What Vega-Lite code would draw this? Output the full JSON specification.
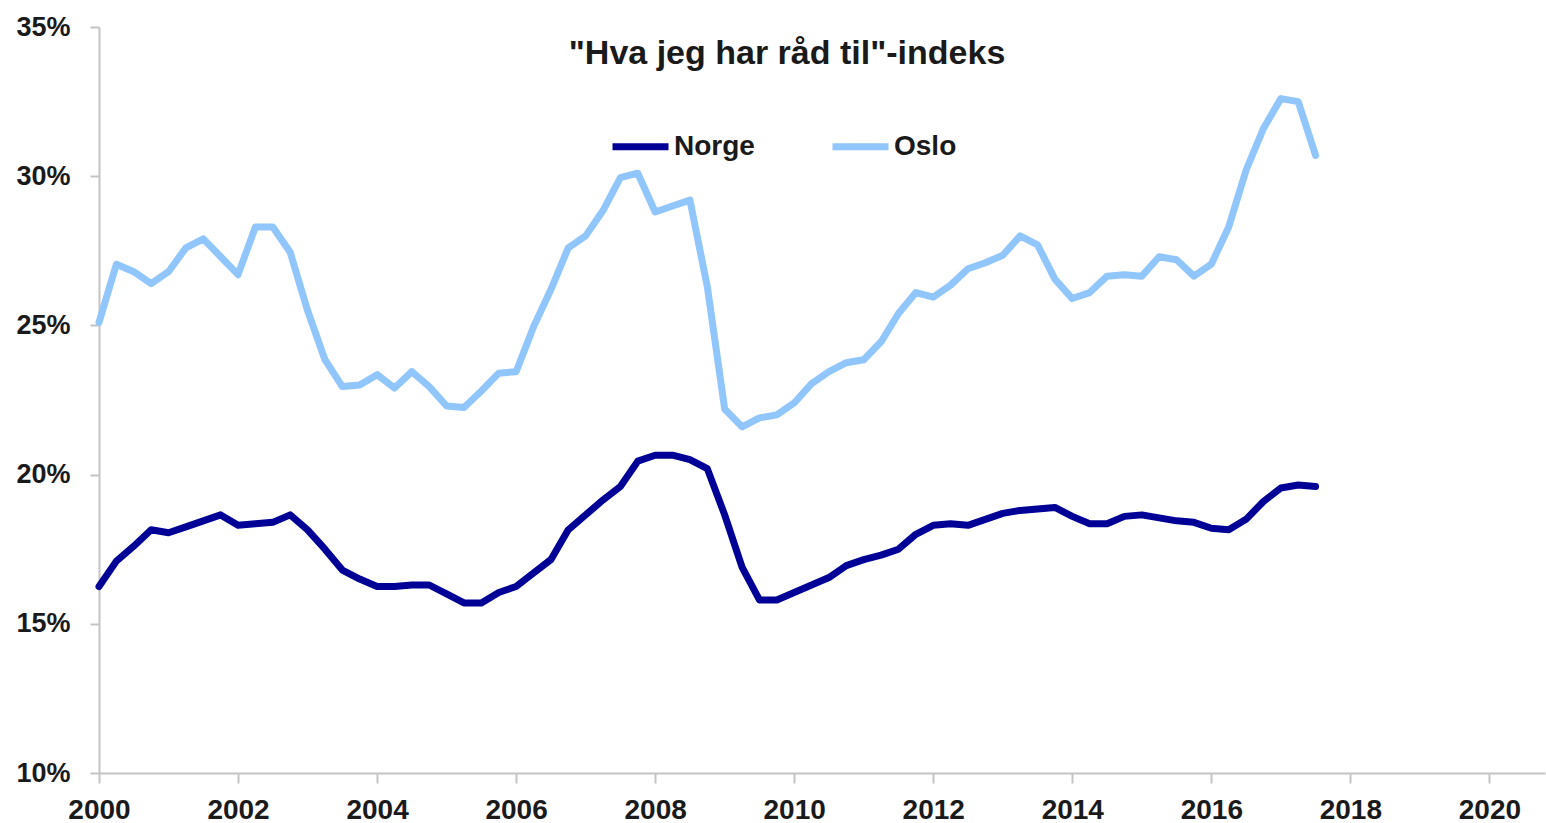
{
  "$schema": "https://vega.github.io/schema/vega-lite/v6.json",
  "width": 1446,
  "height": 746,
  "autosize": {"type": "none"},
  "padding": {"left": 99, "top": 27, "right": 1, "bottom": 50},
  "background": "white",
  "config": {
    "view": {"stroke": null},
    "font": "Liberation Sans",
    "axis": {"grid": false, "labelFont": "Liberation Sans", "labelFontWeight": "bold", "labelFontSize": 27, "labelColor": "#1a1a1a", "domainColor": "#c4c4c4", "domainWidth": 2, "tickColor": "#c4c4c4", "tickWidth": 2, "title": null}
  },
  "title": {
    "text": "\"Hva jeg har råd til\"-indeks",
    "font": "Liberation Sans",
    "fontSize": 34,
    "fontWeight": "bold",
    "color": "#1a1a1a",
    "anchor": "middle",
    "frame": "group",
    "dx": -35,
    "offset": -58
  },
  "data": {
    "values": [
      {"t": 2000.0, "Norge": 16.25, "Oslo": 25.1},
      {"t": 2000.25, "Norge": 17.1, "Oslo": 27.05},
      {"t": 2000.5, "Norge": 17.6, "Oslo": 26.8},
      {"t": 2000.75, "Norge": 18.15, "Oslo": 26.4},
      {"t": 2001.0, "Norge": 18.05, "Oslo": 26.8},
      {"t": 2001.25, "Norge": 18.25, "Oslo": 27.6},
      {"t": 2001.5, "Norge": 18.45, "Oslo": 27.9},
      {"t": 2001.75, "Norge": 18.65, "Oslo": 27.3},
      {"t": 2002.0, "Norge": 18.3, "Oslo": 26.7},
      {"t": 2002.25, "Norge": 18.35, "Oslo": 28.3},
      {"t": 2002.5, "Norge": 18.4, "Oslo": 28.3},
      {"t": 2002.75, "Norge": 18.65, "Oslo": 27.45},
      {"t": 2003.0, "Norge": 18.15, "Oslo": 25.5},
      {"t": 2003.25, "Norge": 17.5, "Oslo": 23.85},
      {"t": 2003.5, "Norge": 16.8, "Oslo": 22.95},
      {"t": 2003.75, "Norge": 16.5, "Oslo": 23.0},
      {"t": 2004.0, "Norge": 16.25, "Oslo": 23.35},
      {"t": 2004.25, "Norge": 16.25, "Oslo": 22.9},
      {"t": 2004.5, "Norge": 16.3, "Oslo": 23.45},
      {"t": 2004.75, "Norge": 16.3, "Oslo": 22.95},
      {"t": 2005.0, "Norge": 16.0, "Oslo": 22.3},
      {"t": 2005.25, "Norge": 15.7, "Oslo": 22.25},
      {"t": 2005.5, "Norge": 15.7, "Oslo": 22.8},
      {"t": 2005.75, "Norge": 16.05, "Oslo": 23.4},
      {"t": 2006.0, "Norge": 16.25, "Oslo": 23.45},
      {"t": 2006.25, "Norge": 16.7, "Oslo": 24.95},
      {"t": 2006.5, "Norge": 17.15, "Oslo": 26.2},
      {"t": 2006.75, "Norge": 18.15, "Oslo": 27.6},
      {"t": 2007.0, "Norge": 18.65, "Oslo": 28.0},
      {"t": 2007.25, "Norge": 19.15, "Oslo": 28.85},
      {"t": 2007.5, "Norge": 19.6, "Oslo": 29.95},
      {"t": 2007.75, "Norge": 20.45, "Oslo": 30.1},
      {"t": 2008.0, "Norge": 20.65, "Oslo": 28.8},
      {"t": 2008.25, "Norge": 20.65, "Oslo": 29.0},
      {"t": 2008.5, "Norge": 20.5, "Oslo": 29.2},
      {"t": 2008.75, "Norge": 20.2, "Oslo": 26.3},
      {"t": 2009.0, "Norge": 18.65, "Oslo": 22.2},
      {"t": 2009.25, "Norge": 16.9, "Oslo": 21.6},
      {"t": 2009.5, "Norge": 15.8, "Oslo": 21.9},
      {"t": 2009.75, "Norge": 15.8, "Oslo": 22.0},
      {"t": 2010.0, "Norge": 16.05, "Oslo": 22.4},
      {"t": 2010.25, "Norge": 16.3, "Oslo": 23.05},
      {"t": 2010.5, "Norge": 16.55, "Oslo": 23.45},
      {"t": 2010.75, "Norge": 16.95, "Oslo": 23.75},
      {"t": 2011.0, "Norge": 17.15, "Oslo": 23.85},
      {"t": 2011.25, "Norge": 17.3, "Oslo": 24.45},
      {"t": 2011.5, "Norge": 17.5, "Oslo": 25.4},
      {"t": 2011.75, "Norge": 18.0, "Oslo": 26.1},
      {"t": 2012.0, "Norge": 18.3, "Oslo": 25.95},
      {"t": 2012.25, "Norge": 18.35, "Oslo": 26.35},
      {"t": 2012.5, "Norge": 18.3, "Oslo": 26.9},
      {"t": 2012.75, "Norge": 18.5, "Oslo": 27.1},
      {"t": 2013.0, "Norge": 18.7, "Oslo": 27.35},
      {"t": 2013.25, "Norge": 18.8, "Oslo": 28.0},
      {"t": 2013.5, "Norge": 18.85, "Oslo": 27.7},
      {"t": 2013.75, "Norge": 18.9, "Oslo": 26.55},
      {"t": 2014.0, "Norge": 18.6, "Oslo": 25.9},
      {"t": 2014.25, "Norge": 18.35, "Oslo": 26.1},
      {"t": 2014.5, "Norge": 18.35, "Oslo": 26.65},
      {"t": 2014.75, "Norge": 18.6, "Oslo": 26.7},
      {"t": 2015.0, "Norge": 18.65, "Oslo": 26.65},
      {"t": 2015.25, "Norge": 18.55, "Oslo": 27.3},
      {"t": 2015.5, "Norge": 18.45, "Oslo": 27.2},
      {"t": 2015.75, "Norge": 18.4, "Oslo": 26.65},
      {"t": 2016.0, "Norge": 18.2, "Oslo": 27.05},
      {"t": 2016.25, "Norge": 18.15, "Oslo": 28.3},
      {"t": 2016.5, "Norge": 18.5, "Oslo": 30.2},
      {"t": 2016.75, "Norge": 19.1, "Oslo": 31.6},
      {"t": 2017.0, "Norge": 19.55, "Oslo": 32.6},
      {"t": 2017.25, "Norge": 19.65, "Oslo": 32.5},
      {"t": 2017.5, "Norge": 19.6, "Oslo": 30.7}
    ]
  },
  "transform": [{"fold": ["Norge", "Oslo"], "as": ["serie", "v"]}],
  "mark": {"type": "line", "strokeWidth": 7, "strokeJoin": "round", "strokeCap": "round", "clip": false},
  "encoding": {
    "x": {
      "field": "t", "type": "quantitative",
      "scale": {"domain": [2000, 2020.8], "nice": false, "zero": false},
      "axis": {"values": [2000, 2002, 2004, 2006, 2008, 2010, 2012, 2014, 2016, 2018, 2020], "format": "d", "tickSize": 10, "labelPadding": 13, "labelFlush": false, "labelFontSize": 28}
    },
    "y": {
      "field": "v", "type": "quantitative",
      "scale": {"domain": [10, 35], "nice": false, "zero": false},
      "axis": {"values": [10, 15, 20, 25, 30, 35], "labelExpr": "datum.value + '%'", "tickSize": 9, "labelPadding": 20}
    },
    "color": {
      "field": "serie", "type": "nominal",
      "scale": {"domain": ["Norge", "Oslo"], "range": ["#000096", "#91C6FD"]},
      "legend": {
        "title": null, "orient": "none", "direction": "horizontal",
        "legendX": 510, "legendY": 88,
        "symbolType": "stroke", "symbolSize": 3136, "symbolStrokeWidth": 7,
        "labelFont": "Liberation Sans", "labelFontWeight": "bold", "labelFontSize": 28, "labelColor": "#1a1a1a",
        "labelOffset": 2, "columnPadding": 63, "padding": 0
      }
    }
  }
}
